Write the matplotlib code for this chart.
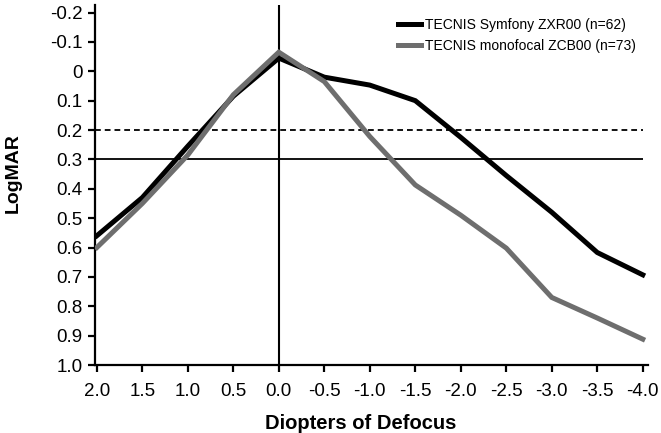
import numpy as np
import matplotlib.pyplot as plt
from matplotlib.ticker import FuncFormatter

plt.rcParams.update({
    "font.family": ["Liberation Sans", "DejaVu Sans"],
    "font.size": 13,
    "axes.linewidth": 1.6,
    "xtick.direction": "out",
    "ytick.direction": "out",
    "xtick.major.size": 5,
    "ytick.major.size": 5,
    "xtick.major.width": 1.6,
    "ytick.major.width": 1.6,
})

# defocus steps (D), left to right as on the chart
defocus = [2.0, 1.5, 1.0, 0.5, 0.0, -0.5, -1.0, -1.5, -2.0, -2.5, -3.0, -3.5, -4.0]

symfony = [0.56, 0.43, 0.255, 0.085, -0.045, 0.02, 0.047, 0.10, 0.225, 0.355, 0.48, 0.617, 0.693]
monofocal = [0.60, 0.45, 0.285, 0.08, -0.065, 0.035, 0.222, 0.387, 0.49, 0.602, 0.77, 0.84, 0.912]

labels = ["TECNIS Symfony ZXR00 (n=62)", "TECNIS monofocal ZCB00 (n=73)"]
colors = ["#000000", "#6e6e6e"]

ytick_vals = np.round(np.arange(-0.2, 1.01, 0.1), 1)
xtick_vals = np.arange(2.0, -4.01, -0.5)


def fmt_y(v, pos):
    v = round(v, 1)
    if v == 0:
        return "0"
    return f"{v:.1f}"


fig = plt.figure(figsize=(6.61, 4.33), dpi=100)
ax = fig.add_axes([0.1437, 0.157, 0.837, 0.831])

ax.plot(defocus, symfony, color=colors[0], lw=3.6, label=labels[0],
        solid_joinstyle="miter", zorder=3)
ax.plot(defocus, monofocal, color=colors[1], lw=3.6, label=labels[1],
        solid_joinstyle="miter", zorder=3)

# reference lines
ax.hlines(0.2, 2.02, -4.0, color="black", lw=1.3, ls=(0, (3.2, 2.2)), zorder=2)
ax.hlines(0.3, 2.02, -4.0, color="black", lw=1.3, zorder=2)
ax.axvline(0.0, color="black", lw=1.5, zorder=2)

ax.set_xlim(2.02, -4.06)
ax.set_ylim(1.0, -0.225)

ax.set_xticks(xtick_vals)
ax.set_xticklabels([f"{v:.1f}" for v in xtick_vals])
ax.set_yticks(ytick_vals)
ax.yaxis.set_major_formatter(FuncFormatter(fmt_y))

for side in ["top", "right"]:
    ax.spines[side].set_visible(False)
ax.spines["left"].set_bounds(1.0, -0.225)

ax.tick_params(axis="y", labelsize=13.5, pad=4)
ax.tick_params(axis="x", labelsize=13.5, pad=8)

ax.set_xlabel("Diopters of Defocus", fontsize=14.5, fontweight="bold")
ax.set_ylabel("LogMAR", fontsize=14, fontweight="bold")
ax.xaxis.set_label_coords(0.481, -0.135)
ax.yaxis.set_label_coords(-0.132, 0.533)

ax.legend(loc="upper right", frameon=False, fontsize=10,
          handlelength=1.6, handletextpad=0.3, labelspacing=0.55,
          bbox_to_anchor=(1.0, 1.0))

fig.savefig("out.png", dpi=100)
